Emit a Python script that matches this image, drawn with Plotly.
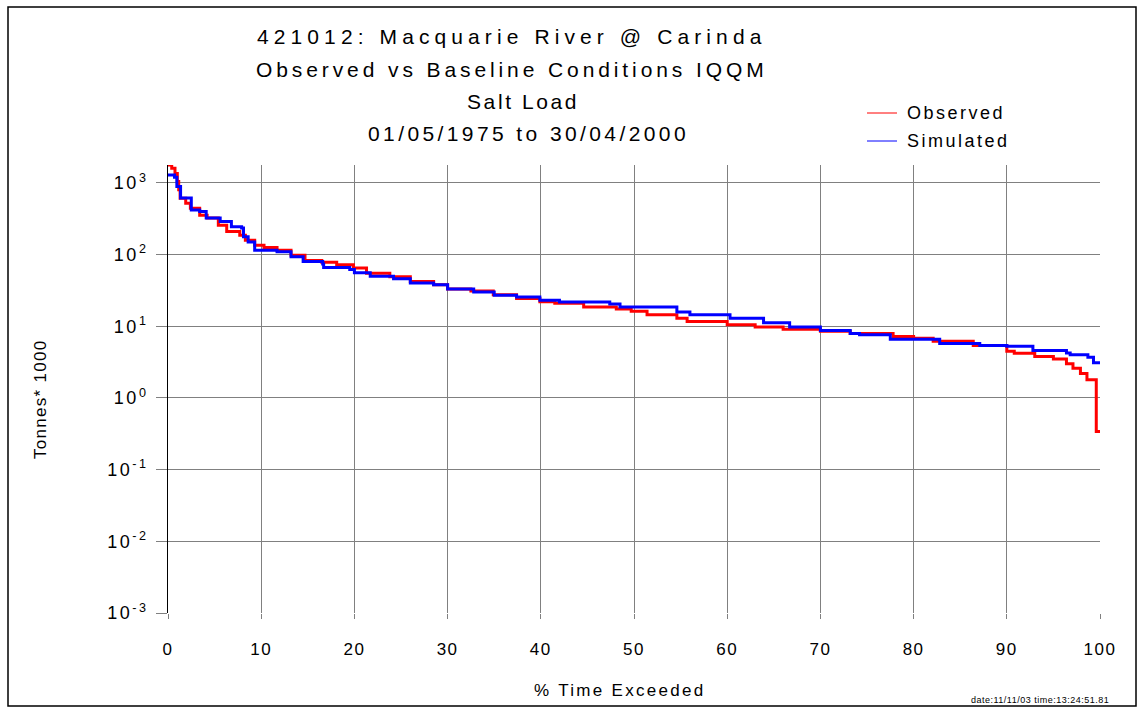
import plotly.graph_objects as go

# Flow-duration style salt load curves (% of time exceeded vs load, tonnes*1000)
obs_pct = [0, 0.4, 0.75, 1.0, 1.15, 1.3, 1.9, 2.4, 3.4, 4.2, 5.4, 6.3, 7.7, 8.3, 9.3,
           10.3, 11.7, 13.2, 14.7, 16.5, 18.1, 19.9, 21.3, 23.8, 26, 28.5, 30, 32.5,
           34.9, 37.4, 39.9, 41.5, 44.6, 48.1, 49.7, 51.4, 54.6, 55.7, 60, 63, 66, 70,
           73.2, 77.8, 80, 82.1, 86.4, 90, 90.8, 93, 95, 96.4, 97.1, 97.9, 98.6, 99.6, 100]
obs_load = [1780, 1600, 1350, 1050, 800, 610, 520, 445, 355, 325, 257, 210, 186, 158, 135,
            126, 115, 98, 83, 78, 72, 65, 55, 49, 42, 38, 33, 31,
            27.5, 24.5, 22, 21, 18.6, 17.4, 16.2, 14.5, 12.9, 11.7, 10.5, 9.8, 9.1, 8.5,
            7.9, 7.2, 6.8, 6.2, 5.4, 4.5, 4.2, 3.8, 3.5, 3.0, 2.6, 2.2, 1.8, 0.34, 0.34]

sim_pct = [0, 0.7, 0.95, 1.35, 2.5, 3.4, 4.1, 5.6, 6.8, 7.9, 8.1, 8.6, 9.3, 11.7, 13.2,
           14.5, 16.6, 16.7, 19.5, 20, 21.7, 24.2, 26, 28.5, 30, 32.8, 35, 37.4, 39.9,
           42, 47.4, 48.5, 54.6, 56, 60.3, 63.9, 66.7, 70, 73.2, 74.2, 77.5, 82.8, 87.1,
           90, 92.8, 96.4, 96.8, 98.7, 99.3, 100]
sim_load = [1290, 1200, 890, 615, 420, 400, 325, 290, 245, 235, 178, 150, 115, 110, 93,
            80, 74, 66, 62, 56, 50, 46, 40, 38, 33, 30, 27, 25.7, 23,
            21.9, 20.4, 18.6, 15.8, 14.5, 12.9, 11.2, 9.8, 8.7, 7.9, 7.6, 6.6, 5.75, 5.4,
            5.25, 4.6, 4.25, 4.0, 3.7, 3.1, 3.1]

x_ticks = list(range(0, 101, 10))
y_tick_vals = [1e-3, 1e-2, 1e-1, 1, 10, 100, 1000]
y_exponents = ["-3", "-2", "-1", "0", "1", "2", "3"]

title_lines = ["421012: Macquarie River @ Carinda",
               "Observed vs Baseline Conditions IQQM",
               "Salt Load",
               "01/05/1975 to 30/04/2000"]
series_names = ["Observed", "Simulated"]
series_colors = ["#ff0000", "#0000ff"]
x_title = "% Time Exceeded"
y_title = "Tonnes* 1000"
stamp = "date:11/11/03 time:13:24:51.81"

FONT = "Liberation Sans, Arial, sans-serif"
GRID = "#808080"
W, H = 1138, 707
L, R, T, B = 168, 38, 165, 94
PW, PH = W - L - R, H - T - B

# per-line centre (px) and tracking for the title block
title_centres = [511, 512, 523, 528]
title_tracking = [5.1, 3.9, 2.6, 3.4]


def spaced(text, px):
    return f'<span style="letter-spacing:{px}px">{text}</span>'


def px_x(px):
    return (px - L) / PW


def px_y(py):
    return (H - B - py) / PH


fig = go.Figure()
fig.add_trace(go.Scatter(x=obs_pct, y=obs_load, mode="lines", line_shape="hv",
                         line=dict(color=series_colors[0], width=3), name=series_names[0],
                         showlegend=False))
fig.add_trace(go.Scatter(x=sim_pct, y=sim_load, mode="lines", line_shape="hv",
                         line=dict(color=series_colors[1], width=3), name=series_names[1],
                         showlegend=False))

fig.update_layout(
    width=W, height=H,
    margin=dict(l=L, r=R, t=T, b=B),
    paper_bgcolor="white", plot_bgcolor="white",
    font=dict(family=FONT, color="black", size=17),
    showlegend=False,
)

fig.update_xaxes(range=[0, 100], tickvals=x_ticks,
                 ticktext=[spaced(str(v), 1.5) for v in x_ticks],
                 ticks="outside", ticklen=5,
                 tickcolor=GRID, showgrid=True, gridcolor=GRID, gridwidth=1,
                 zeroline=False, showline=False, ticklabelstandoff=16,
                 tickfont=dict(size=17))
fig.update_yaxes(type="log", range=[-3, 3.25], tickvals=y_tick_vals,
                 ticktext=[spaced(f"10<sup>{e}</sup>", 2.5) for e in y_exponents],
                 ticks="outside", ticklen=11, tickcolor=GRID,
                 showgrid=True, gridcolor=GRID, gridwidth=1, zeroline=False,
                 showline=True, linecolor="black", linewidth=1,
                 tickfont=dict(size=18), ticklabelstandoff=4)

# axis titles
fig.add_annotation(text=spaced(x_title, 2.3), xref="paper", yref="paper",
                   x=px_x(620), y=px_y(690), xanchor="center", yanchor="middle",
                   showarrow=False, font=dict(size=17))
fig.add_annotation(text=spaced(y_title, 1.3), xref="paper", yref="paper",
                   x=px_x(40), y=px_y(399), xanchor="center", yanchor="middle",
                   textangle=-90, showarrow=False, font=dict(size=17))

# chart title block
for i, line in enumerate(title_lines):
    fig.add_annotation(text=spaced(line, title_tracking[i]), xref="paper", yref="paper",
                       x=px_x(title_centres[i]), y=px_y(37 + i * 32.3),
                       xanchor="center", yanchor="middle", showarrow=False,
                       font=dict(size=21))

# legend
for i, (name, color) in enumerate(zip(series_names, series_colors)):
    ly = 113 + i * 28
    fig.add_shape(type="line", xref="paper", yref="paper",
                  x0=px_x(867), x1=px_x(897), y0=px_y(ly), y1=px_y(ly),
                  line=dict(color=color, width=1))
    fig.add_annotation(text=spaced(name, 2.5), xref="paper", yref="paper",
                       x=px_x(905), y=px_y(ly), xanchor="left", yanchor="middle",
                       showarrow=False, font=dict(size=18))

fig.add_annotation(text=spaced(stamp, 0.5), xref="paper", yref="paper",
                   x=px_x(1040), y=px_y(700), xanchor="center", yanchor="middle",
                   showarrow=False, font=dict(size=9))

# outer frame
fig.add_shape(type="rect", xref="paper", yref="paper",
              x0=px_x(8), x1=px_x(1136), y0=px_y(706), y1=px_y(7),
              line=dict(color="black", width=1.5), fillcolor="rgba(0,0,0,0)", layer="below")

fig.write_html("out.html")
